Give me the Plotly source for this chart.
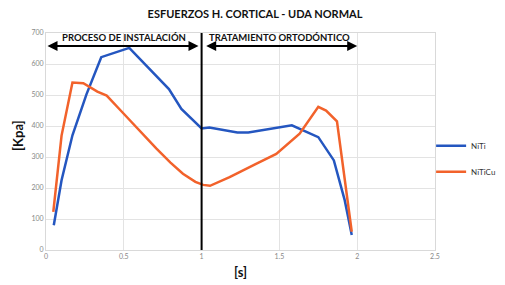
import plotly.graph_objects as go

niti_x = [0.05, 0.10, 0.17, 0.26, 0.355, 0.535, 0.79, 0.87, 1.0, 1.05, 1.23, 1.30, 1.58, 1.75, 1.85, 1.92, 1.965]
niti_y = [80, 225, 370, 502, 622, 652, 519, 455, 392, 395, 379, 379, 402, 364, 289, 160, 48]

niticu_x = [0.047, 0.10, 0.17, 0.24, 0.33, 0.39, 0.48, 0.60, 0.71, 0.80, 0.88, 0.96, 1.01, 1.054, 1.18, 1.35, 1.48, 1.63, 1.75, 1.80, 1.87, 1.965]
niticu_y = [123, 369, 540, 538, 511, 498, 450, 385, 327, 282, 246, 220, 210, 207, 235, 278, 310, 375, 462, 450, 415, 59]

x_ticks = [0, 0.5, 1, 1.5, 2, 2.5]
x_labels = ["0", "0.5", "1", "1.5", "2", "2.5"]
y_ticks = [0, 100, 200, 300, 400, 500, 600, 700]

fig = go.Figure()
fig.add_trace(go.Scatter(x=niti_x, y=niti_y, mode="lines", name="NiTi", legendgroup="a",
                         line=dict(color="#2456C0", width=2.5)))
fig.add_trace(go.Scatter(x=niticu_x, y=niticu_y, mode="lines", name="NiTiCu", legendgroup="b",
                         line=dict(color="#F2622B", width=2.5)))

fig.add_shape(type="line", x0=1, x1=1, y0=0, y1=700, xref="x", yref="y",
              line=dict(color="black", width=2))

for (x0, x1) in [(0.0, 0.98), (1.02, 2.0)]:
    fig.add_annotation(x=x1, y=658, ax=x0, ay=658, xref="x", yref="y", axref="x", ayref="y",
                       text="", showarrow=True, arrowhead=2, arrowsize=1, arrowwidth=2,
                       arrowcolor="black", arrowside="end+start")

fig.add_annotation(x=0.5, y=660, xref="x", yref="y", text="<b>PROCESO DE INSTALACIÓN</b>",
                   showarrow=False, yanchor="bottom", font=dict(family="Lato", size=9.5, color="#111"))
fig.add_annotation(x=1.5, y=660, xref="x", yref="y", text="<b>TRATAMIENTO ORTODÓNTICO</b>",
                   showarrow=False, yanchor="bottom", font=dict(family="Lato", size=9.5, color="#111"))

# axis titles
fig.add_annotation(x=0.5, y=-0.101, xref="paper", yref="paper", text="<b>[s]</b>", showarrow=False,
                   xanchor="center", yanchor="middle", font=dict(family="Lato", size=13, color="#111"))
fig.add_annotation(x=-0.072, y=0.53, xref="paper", yref="paper", text="<b>[Kpa]</b>", showarrow=False,
                   textangle=-90, xanchor="center", yanchor="middle",
                   font=dict(family="Lato", size=13, color="#111"))

fig.update_layout(
    width=497, height=277,
    margin=dict(l=38, r=70, t=25, b=35, autoexpand=False),
    paper_bgcolor="white", plot_bgcolor="white",
    title=dict(text="<b>ESFUERZOS H. CORTICAL - UDA NORMAL</b>", x=0.497, xanchor="center",
               y=0.978, yanchor="middle", font=dict(family="Lato", size=11, color="#111")),
    xaxis=dict(range=[0, 2.5], tickvals=x_ticks, ticktext=x_labels, showgrid=True, automargin=False,
               gridcolor="#E3E3E3", gridwidth=1, zeroline=False, showline=True, linecolor="#D9D9D9",
               mirror=True, tickfont=dict(family="Lato", size=7, color="#888"), ticks=""),
    yaxis=dict(range=[0, 700], tickvals=y_ticks, showgrid=True, gridcolor="#E3E3E3", gridwidth=1,
               zeroline=False, showline=True, linecolor="#D9D9D9", mirror=True, automargin=False,
               tickfont=dict(family="Lato", size=7, color="#888"), ticks=""),
    legend=dict(x=0.99, y=0.42, xanchor="left", yanchor="middle", font=dict(family="Lato", size=8, color="#333"),
                tracegroupgap=7, bgcolor="rgba(0,0,0,0)", itemwidth=30),
    showlegend=True,
)

fig.write_html("out.html")
